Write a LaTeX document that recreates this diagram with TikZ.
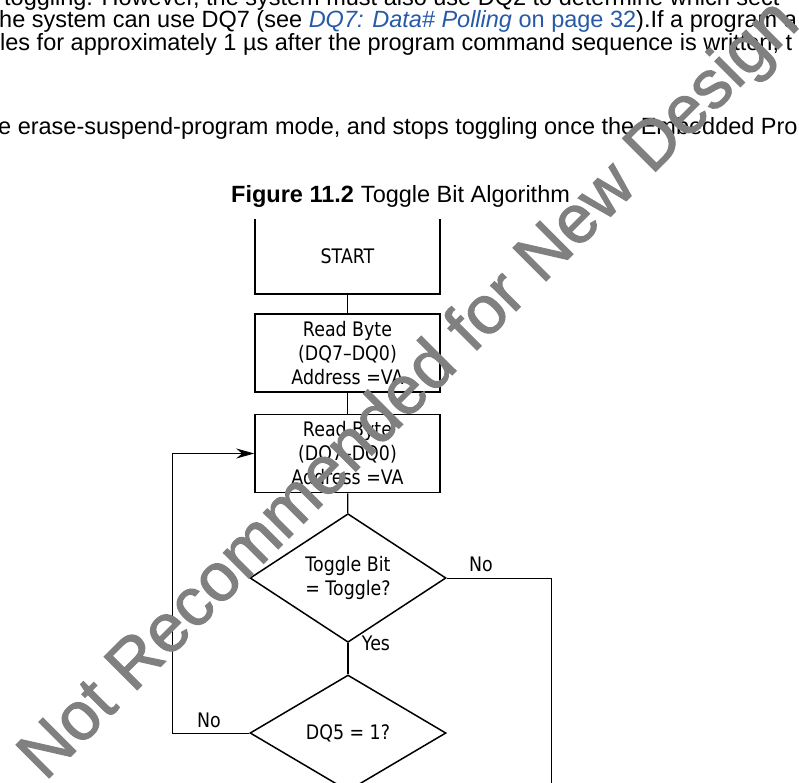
\documentclass[tikz,border=0pt]{standalone}
\usepackage{fontspec}
\setmainfont{Liberation Sans}
\newfontfamily\chartfont[FakeStretch=0.87]{DejaVu Sans}
\newfontfamily\markfont[FakeBold=1.6]{Liberation Sans}
\usetikzlibrary{arrows.meta}
\usetikzlibrary{shapes.geometric}
\definecolor{linkblue}{RGB}{38,90,168}
\definecolor{wmgray}{RGB}{128,128,128}
\tikzset{
  bodytext/.style={anchor=base west,inner sep=0pt,font=\fontsize{23.5bp}{28bp}\selectfont},
  chart/.style={font=\chartfont\fontsize{20bp}{24bp}\selectfont},
  readbox/.style={chart,draw,line width=1.5bp,minimum width=185bp,minimum height=78bp,align=center,inner sep=0pt},
  startbox/.style={chart,minimum width=185bp,minimum height=75bp,inner sep=0pt,outer sep=0pt},
  decision/.style={chart,diamond,draw,line width=1.5bp,minimum width=196bp,minimum height=116bp,align=center,inner sep=0pt},
  flowlabel/.style={chart,inner sep=0pt},
}
\begin{document}
\begin{tikzpicture}[x=1bp,y=-1bp,>={Stealth[length=18bp,width=10bp]},line join=miter,]
\clip (0,0) rectangle (799,783);
%% text of the page
\node (node_line_1) at (4,6) [bodytext] {toggling. However, the system must also use DQ2 to determine which sect};
  \node (node_line_2) at (-1,28) [bodytext] {he system can use DQ7 (see \textcolor{linkblue}{\textit{DQ7: Data\# Polling} on page 32}).If a program a};
  \node (node_line_3) at (0,51) [bodytext] {les for approximately 1 µs after the program command sequence is written, t};
  \node (node_line_4) at (-2,134) [bodytext] {e erase-suspend-program mode, and stops toggling once the Embedded Pro};
  \node (node_caption) at (231,202) [bodytext] {\textbf{Figure 11.2}\hspace{7bp}Toggle Bit Algorithm};
%% flow chart
\node (node_start) at (347.5,256.5) [startbox] {START};
  \node (node_read_a) at (347.5,353) [readbox] {Read Byte\\(DQ7–DQ0)\\Address =VA};
  \node (node_read_b) at (347.5,453.5) [readbox] {Read Byte\\(DQ7–DQ0)\\Address =VA};
  \node (node_toggle) at (348,578) [decision] {Toggle Bit\\= Toggle?};
  \node (node_dq5) at (348,733) [decision] {DQ5 = 1?};
  \coordinate (node_loop) at (172.3,733);
  \coordinate (node_exit) at (551,790);
  \draw [line width=1.5bp] (node_start.north west) -- (node_start.south west) -- (node_start.south east) -- (node_start.north east);
  \draw [line width=1.2bp] (node_start) -- (node_read_a);
  \draw [line width=1.2bp] (node_read_a) -- (node_read_b);
  \draw [line width=1.2bp] (node_read_b) -- (node_toggle);
  \draw [line width=1.2bp] (node_toggle) -- (node_dq5);
  \draw [line width=1bp] (node_toggle.east) -| (node_exit);
  \draw [line width=1bp,->] (node_dq5.west) -- (node_loop) |- (node_read_b.west);
  \node (node_no_a) at (481,564) [flowlabel] {No};
  \node (node_yes) at (376,643) [flowlabel] {Yes};
  \node (node_no_b) at (209,720) [flowlabel] {No};
%
\node (node_mark) at (45,782) [anchor=base west,rotate=45,inner sep=0pt,text=wmgray,font=\markfont\fontsize{68bp}{68bp}\selectfont] {Not Recommended for New Design};
%
\end{tikzpicture}
\end{document}
